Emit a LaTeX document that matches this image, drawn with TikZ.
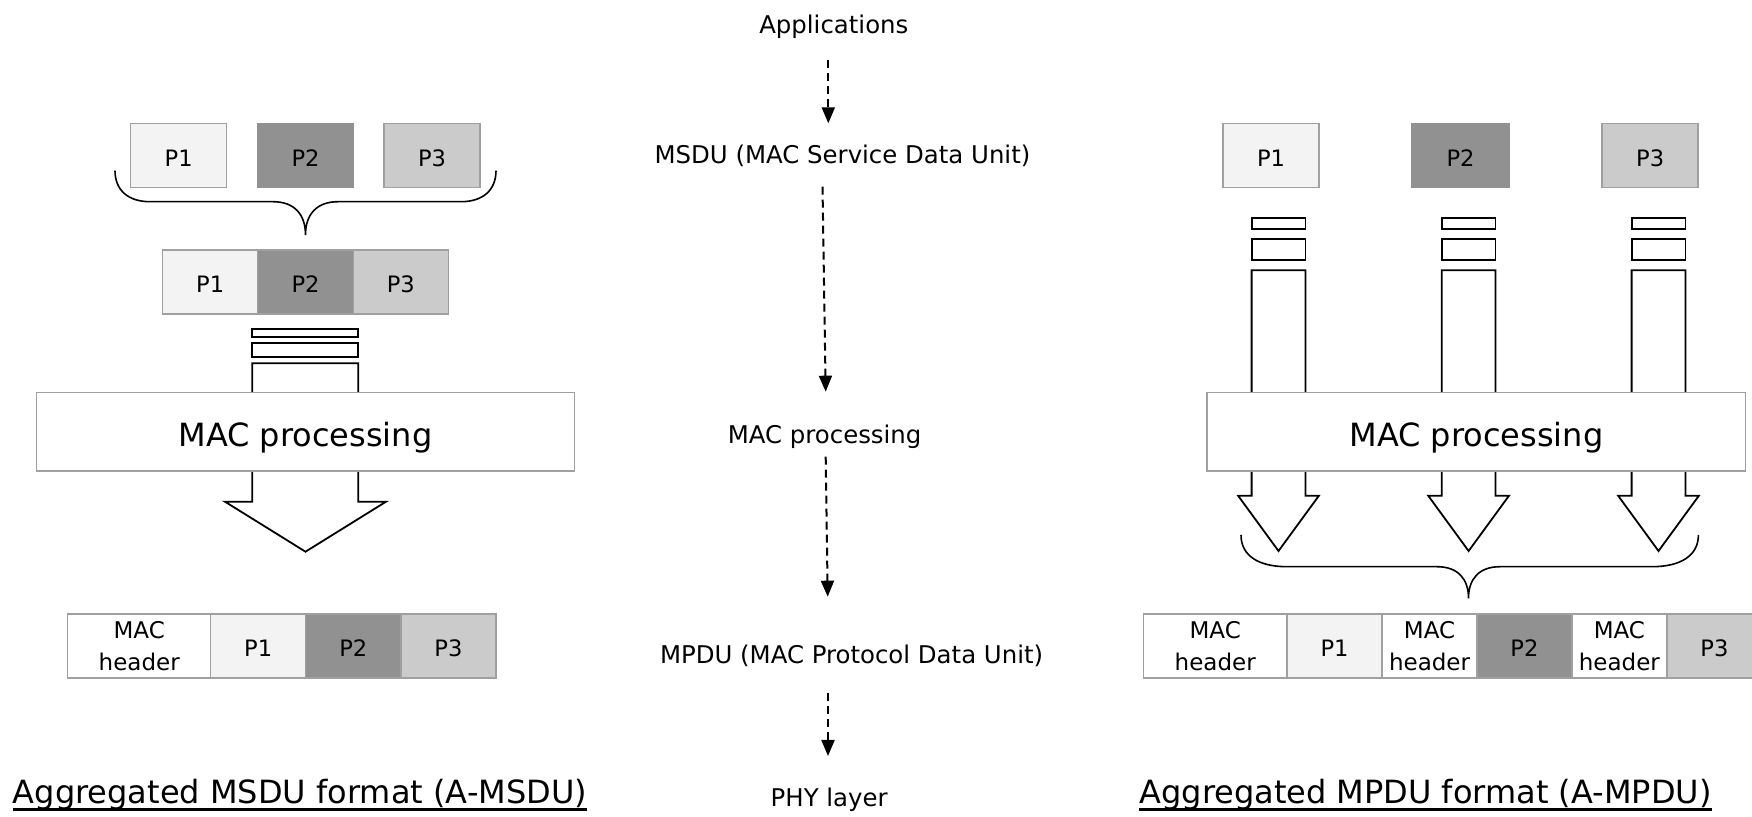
\documentclass[tikz,border=0pt]{standalone}
\usepackage{fontspec}
\setmainfont{DejaVu Sans}
\usetikzlibrary{arrows.meta}
\definecolor{edge}{HTML}{A0A0A0}
\definecolor{pone}{HTML}{F3F3F3}
\definecolor{ptwo}{HTML}{919191}
\definecolor{pthree}{HTML}{CBCBCB}
\begin{document}
\begin{tikzpicture}[x=0.5pt,y=-0.5pt,
  txt/.style={inner sep=0pt, anchor=base},
  midtxt/.style={txt, font=\fontsize{12.2}{14}\selectfont},
  cell/.style={draw=edge, line width=0.75pt, inner sep=0pt, minimum height=32pt,
    text height=11pt, text depth=0pt, font=\fontsize{11.3}{13}\selectfont},
  hdr/.style={draw=edge, line width=0.75pt, inner sep=0pt, minimum height=32pt,
    fill=white, align=center, font=\fontsize{11.5}{15.8}\selectfont},
  macbox/.style={draw=edge, fill=white, line width=0.75pt, inner sep=0pt,
    minimum height=39.25pt, text height=16pt, text depth=1pt,
    font=\fontsize{16}{18}\selectfont},
  blockarrow/.style={draw=black, fill=white, line width=0.9pt, line join=miter},
  brace/.style={draw=black, line width=0.8pt},
  flow/.style={line width=1pt, dash pattern=on 4pt off 2.5pt,
    -{Triangle[length=8pt,width=6.5pt]}},
  title/.style={txt, font=\fontsize{16}{19}\selectfont}]

\useasboundingbox (0,0) rectangle (1752,817);
\clip (0,0) rectangle (1752,817);

% ---------- left: A-MSDU ----------
\node[cell, fill=pone, minimum width=48pt] (lp1) at (178.7,155.3) {P1};
\node[cell, fill=ptwo, draw=ptwo, minimum width=48pt] (lp2) at (305.5,155.3) {P2};
\node[cell, fill=pthree, minimum width=48pt] (lp3) at (432,155.3) {P3};

\draw[brace] (115,170.7) .. controls (115,190) and (128,201.7) .. (150,201.7)
  -- (273,201.7) .. controls (294,201.7) and (305.5,214) .. (305.5,235)
  .. controls (305.5,214) and (317,201.7) .. (338,201.7)
  -- (461,201.7) .. controls (483,201.7) and (496,190) .. (496,170.7);

\node[cell, fill=pone, minimum width=47.5pt] (lb1) at (210.2,281.85) {P1};
\node[cell, fill=ptwo, minimum width=47.8pt] (lb2) at (305.5,281.85) {P2};
\node[cell, fill=pthree, minimum width=47.5pt] (lb3) at (400.8,281.85) {P3};

\draw[blockarrow] (252.3,329.3) rectangle (358.3,336.7);
\draw[blockarrow] (252.3,343.3) rectangle (358.3,357.3);
\draw[blockarrow] (252.3,363.3) -- (252.3,501.7) -- (225,501.7) -- (305.5,551.7)
  -- (386,501.7) -- (358.3,501.7) -- (358.3,363.3) -- cycle;
\node[macbox, minimum width=268.9pt] (lmac) at (305.4,431.75) {MAC processing};

\node[hdr, minimum width=71.5pt] (lh) at (139.2,645.85) {MAC\\header};
\node[cell, fill=pone, minimum width=47.5pt] (lq1) at (258.2,645.85) {P1};
\node[cell, fill=ptwo, minimum width=47.65pt] (lq2) at (353.35,645.85) {P2};
\node[cell, fill=pthree, minimum width=47.5pt] (lq3) at (448.5,645.85) {P3};

\node[title] (ttlL) at (300,803.3) {Aggregated MSDU format (A-MSDU)};
\draw[line width=1.1pt] ([yshift=-3.1pt]ttlL.base west) -- ([yshift=-3.1pt]ttlL.base east);

% ---------- centre: layer flow ----------
\node[midtxt] (apps) at (833.8,33.3) {Applications};
\node[midtxt] (msdu) at (842.5,163.5) {MSDU (MAC Service Data Unit)};
\node[midtxt] (macp) at (824.6,443.3) {MAC processing};
\node[midtxt] (mpdu) at (851.6,664) {MPDU (MAC Protocol Data Unit)};
\node[midtxt] (phy) at (829.2,806.7) {PHY layer};

\coordinate (xa) at (828.3,0);
\coordinate (xb) at (822.5,0);
\coordinate (xc) at (825.7,0);
\coordinate (xd) at (827.7,0);
\coordinate (xe) at (828,0);
\draw[flow] ([yshift=-13.35pt]apps.base -| xa) -- ([yshift=20.1pt]msdu.base -| xa);
\draw[flow] ([yshift=-11.6pt]msdu.base -| xb) -- ([yshift=25.8pt]macp.base -| xc);
\draw[flow] ([yshift=-6.7pt]macp.base -| xc) -- ([yshift=33.65pt]mpdu.base -| xd);
\draw[flow] ([yshift=-14.65pt]mpdu.base -| xe) -- ([yshift=25.35pt]phy.base -| xe);

% ---------- right: A-MPDU ----------
\node[cell, fill=pone, minimum width=48pt] (rp1) at (1271,155.3) {P1};
\node[cell, fill=ptwo, draw=ptwo, minimum width=48.4pt] (rp2) at (1460.6,155.3) {P2};
\node[cell, fill=pthree, minimum width=48pt] (rp3) at (1650.2,155.3) {P3};

\foreach \c in {1278.5,1468.6,1658.5}{
  \draw[blockarrow] (\c-26.9,218.3) rectangle (\c+26.9,229);
  \draw[blockarrow] (\c-26.9,239) rectangle (\c+26.9,260.3);
  \draw[blockarrow] (\c-26.9,270.3) -- (\c-26.9,495.7) -- (\c-40.4,495.7) -- (\c,551)
    -- (\c+40.4,495.7) -- (\c+26.9,495.7) -- (\c+26.9,270.3) -- cycle;
}
\node[macbox, minimum width=269.15pt] (rmac) at (1476.35,431.75) {MAC processing};

\draw[brace] (1241,535) .. controls (1241,556) and (1259,566.7) .. (1287,566.7)
  -- (1437,566.7) .. controls (1458,566.7) and (1468.5,579) .. (1468.5,598.3)
  .. controls (1468.5,579) and (1479,566.7) .. (1500,566.7)
  -- (1652,566.7) .. controls (1680,566.7) and (1698.4,556) .. (1698.4,535);

\node[hdr, minimum width=71.55pt] (rh1) at (1215.25,645.85) {MAC\\header};
\node[cell, fill=pone, minimum width=47.7pt] (rq1) at (1334.5,645.85) {P1};
\node[hdr, minimum width=47.35pt] (rh2) at (1429.55,645.85) {MAC\\header};
\node[cell, fill=ptwo, minimum width=47.5pt] (rq2) at (1524.4,645.85) {P2};
\node[hdr, minimum width=47.5pt] (rh3) at (1619.4,645.85) {MAC\\header};
\node[cell, fill=pthree, minimum width=47.55pt] (rq3) at (1714.45,645.85) {P3};

\node[title] (ttlR) at (1425.5,803.3) {Aggregated MPDU format (A-MPDU)};
\draw[line width=1.1pt] ([yshift=-3.1pt]ttlR.base west) -- ([yshift=-3.1pt]ttlR.base east);
\end{tikzpicture}
\end{document}
